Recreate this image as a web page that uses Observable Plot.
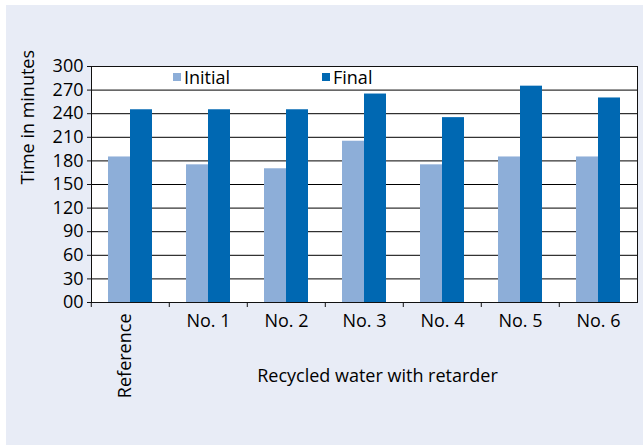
<!DOCTYPE html>
<html>
<head>
<meta charset="utf-8">
<script src="https://cdn.jsdelivr.net/npm/d3@7"></script>
<script src="https://cdn.jsdelivr.net/npm/@observablehq/plot@0.6"></script>
<style>
  html, body { margin: 0; padding: 0; background: #ffffff; }
  #wrap { position: relative; width: 643px; height: 445px; overflow: hidden; font-family: "Open Sans", sans-serif; }
  #bg { position: absolute; left: 6px; top: 5px; right: 0; bottom: 0; background: #e8ecf6; }
  #chart { position: absolute; left: 0; top: 0; }
  #legend { position: absolute; top: 66px; left: 0; height: 22px; font-size: 18px; color: #000; }
  .item { position: absolute; top: 0; display: flex; align-items: center; height: 22px; white-space: nowrap; }
  .sw { display: inline-block; width: 8px; height: 8px; margin-right: 3px; }
</style>
</head>
<body>
<div id="wrap">
  <div id="bg"></div>
  <div id="chart"></div>
  <div id="legend"></div>
</div>
<script>
const categories = ["Reference", "No. 1", "No. 2", "No. 3", "No. 4", "No. 5", "No. 6"];
const series = ["Initial", "Final"];
const initialValues = [185, 175, 170, 205, 175, 185, 185];
const finalValues = [245, 245, 245, 265, 235, 275, 260];
const yTicks = [0, 30, 60, 90, 120, 150, 180, 210, 240, 270, 300];
const colors = ["#8daed8", "#0068b2"];
const yLabel = "Time in minutes";
const xLabel = "Recycled water with retarder";

const data = categories.flatMap((c, i) => [
  {category: c, series: series[0], value: initialValues[i]},
  {category: c, series: series[1], value: finalValues[i]}
]);

const width = 643, height = 445;
const marginLeft = 89, marginRight = 5, marginTop = 66, marginBottom = 143;
const step = (width - marginLeft - marginRight) / categories.length;

const chart = Plot.plot({
  width, height, marginLeft, marginRight, marginTop, marginBottom,
  style: {background: "transparent", fontFamily: "Open Sans", fontSize: "18px", color: "#000", overflow: "visible"},
  fx: {domain: categories, padding: 0, label: null, axis: null},
  x: {domain: series, paddingInner: 0, paddingOuter: 0.74, align: 0.5, axis: null},
  y: {domain: [0, 300], axis: null},
  color: {domain: series, range: colors},
  marks: [
    Plot.frame({facet: "super", fill: "white", stroke: "none"}),
    Plot.ruleY(yTicks, {stroke: "#000", strokeWidth: 1}),
    Plot.barY(data, {fx: "category", x: "series", y: "value", fill: "series"}),
    Plot.frame({facet: "super", stroke: "#111", strokeWidth: 1}),
    Plot.axisY({ticks: yTicks, tickSize: 4, tickPadding: 4, tickFormat: d => d === 0 ? "00" : String(d), label: null, stroke: "#111"}),
    Plot.axisFx({anchor: "bottom", tickSize: 0, tickPadding: 12, tickFormat: d => d === categories[0] ? "" : d, label: null}),
    Plot.axisFx({anchor: "bottom", tickSize: 5, text: null, dx: -step / 2, label: null, stroke: "#111"}),
    Plot.text([categories[0]], {fx: d => d, frameAnchor: "bottom", rotate: -90, textAnchor: "end", dy: 11, fill: "#000"}),
    Plot.text([yLabel], {facet: "super", frameAnchor: "left", rotate: -90, dx: -63, fill: "#000"}),
    Plot.text([xLabel], {facet: "super", frameAnchor: "bottom", dy: 79, dx: 13, fill: "#000"})
  ]
});
document.getElementById("chart").appendChild(chart);

const legendPos = [173, 322];
const legend = document.getElementById("legend");
series.forEach((s, i) => {
  const item = document.createElement("div");
  item.className = "item";
  item.style.left = legendPos[i] + "px";
  const sw = document.createElement("span");
  sw.className = "sw";
  sw.style.background = colors[i];
  item.appendChild(sw);
  item.appendChild(document.createTextNode(s));
  legend.appendChild(item);
});
</script>
</body>
</html>
